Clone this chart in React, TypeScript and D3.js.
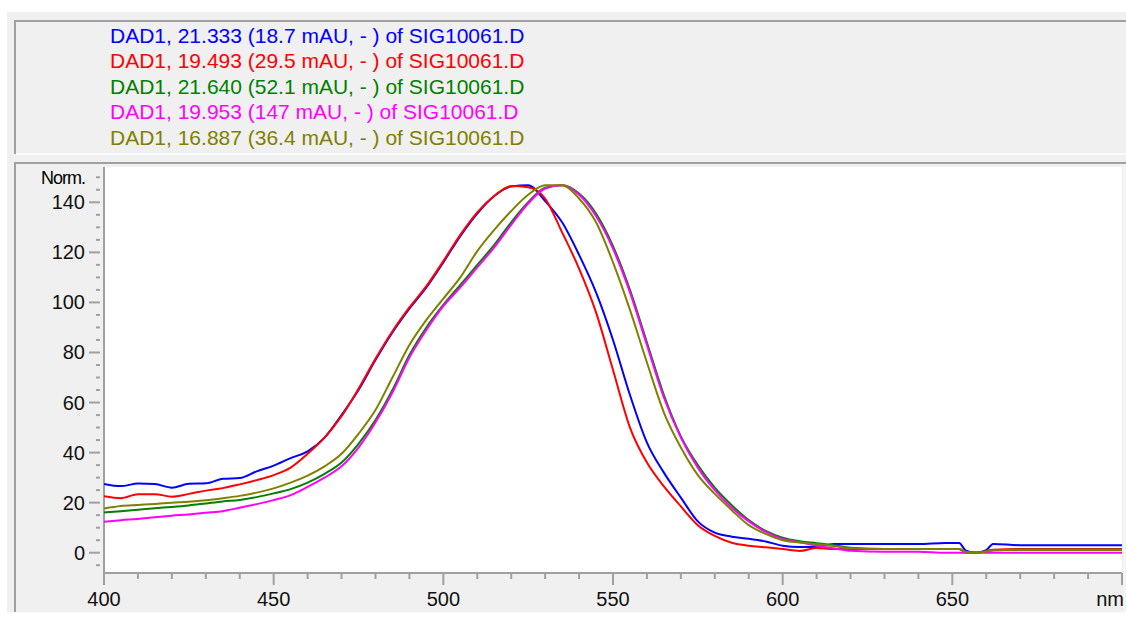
import React from "react";
import * as d3 from "d3";

const wavelengths = [400, 405, 410, 415, 420, 425, 430, 435, 440, 445, 450, 455, 460, 465, 470, 475, 480, 485, 490, 495, 500, 505, 510, 515, 520, 525, 530, 535, 540, 545, 550, 555, 560, 565, 570, 575, 580, 585, 590, 595, 600, 605, 610, 615, 620, 630, 640, 648, 652, 654, 657, 660, 662, 670, 680, 690, 700];

const blueSeries = [27.5, 26.6, 27.6, 27.4, 26.0, 27.5, 27.7, 29.5, 29.8, 32.5, 34.8, 37.8, 40.5, 46, 55, 65, 77, 88, 97.5, 106, 116, 126.5, 135.5, 142.5, 146.3, 146.8, 140.5, 132, 119, 104, 85, 63, 44, 32, 22, 12.5, 8, 6.4, 5.6, 4.5, 2.8, 2.3, 2.3, 3.5, 3.5, 3.5, 3.5, 3.9, 3.9, 0.8, 0, 1, 3.5, 3, 3, 3, 3];
const redSeries = [22.6, 21.8, 23.4, 23.4, 22.4, 23.5, 24.8, 25.8, 27.3, 29, 31, 34, 39.5, 46, 54.5, 65.5, 77.5, 88.5, 98, 106.5, 116.5, 127, 136, 142.5, 146.5, 146, 141.5, 128, 113.5, 96, 73, 50, 36, 26.5, 18.5, 11, 6.7, 4, 2.8, 2.2, 1.5, 0.7, 1.9, 1.5, 1.5, 1.5, 1.5, 1.5, 1.5, 0, 0, 0.7, 1.2, 1.5, 1.5, 1.5, 1.5];
const greenSeries = [16.1, 16.6, 17.2, 17.8, 18.3, 18.9, 19.7, 20.5, 21.1, 22.2, 23.7, 25.4, 28, 31.5, 36, 43.5, 53, 65, 79, 90, 99, 107, 115, 123, 132, 140, 145.8, 146.8, 143.5, 135.5, 122.5, 105, 84, 63, 46.5, 35, 26, 19, 13, 8.7, 6, 4.6, 3.8, 3, 2, 1.5, 1.5, 1.5, 1.5, 0.3, 0, 0.5, 1, 1.2, 1.2, 1.2, 1.2];
const magentaSeries = [12.4, 13, 13.5, 14.2, 14.8, 15.3, 16, 16.6, 18, 19.4, 21, 23, 26.3, 30, 34.5, 42, 52, 64, 78, 89, 98.5, 106, 114, 122, 131, 139.5, 145.5, 146.8, 143, 134.5, 121.5, 104, 83, 62, 46, 34, 25, 18, 12.5, 8.3, 5.5, 4.2, 2.8, 1.8, 0.8, 0.4, 0.4, 0, 0, 0, 0, 0, 0, 0, 0, 0, 0];
const oliveSeries = [17.7, 18.7, 19.1, 19.5, 20, 20.4, 21, 21.8, 22.7, 24, 25.7, 28, 30.8, 34.5, 39.5, 47.5, 57, 70, 83, 93, 101.5, 110, 120.5, 129, 136.5, 143, 146.8, 146.8, 141.5, 132, 116, 97, 76, 56, 42, 31, 23.5, 17, 11, 7.5, 5, 4.1, 3.4, 2.7, 1.8, 1.5, 1.5, 1.5, 1.5, 0.3, 0, 0.5, 1, 1.2, 1.2, 1.2, 1.2];

const seriesLabels = [
  "DAD1, 21.333 (18.7 mAU, - ) of SIG10061.D",
  "DAD1, 19.493 (29.5 mAU, - ) of SIG10061.D",
  "DAD1, 21.640 (52.1 mAU, - ) of SIG10061.D",
  "DAD1, 19.953 (147 mAU, - ) of SIG10061.D",
  "DAD1, 16.887 (36.4 mAU, - ) of SIG10061.D",
];
const seriesColors = ["#0000ff", "#ff0000", "#008000", "#ff00ff", "#808000"];
const seriesValues = [blueSeries, redSeries, greenSeries, magentaSeries, oliveSeries];

const yTickLabels = [0, 20, 40, 60, 80, 100, 120, 140];
const xTickLabels = [400, 450, 500, 550, 600, 650];
const yUnit = "Norm.";
const xUnit = "nm";

const FONT = "'Liberation Sans', Arial, sans-serif";

export default function App() {
  const W = 1126;
  const H = 619;
  const left = 104;
  const right = 1122;
  const top = 167;
  const bottom = 573;

  const x = d3.scaleLinear().domain([400, 700]).range([left, right]);
  const y = d3.scaleLinear().domain([0, 140]).range([552.7, 202.3]);

  const line = d3
    .line<number>()
    .x((_, i) => x(wavelengths[i]))
    .y((d) => y(d))
    .curve(d3.curveMonotoneX);

  const yMinor = d3.range(-5, 151, 5);
  const xMinor = d3.range(400, 701, 10);

  const axisColor = "#a0a0a0";

  return (
    <svg
      width={W}
      height={H}
      style={{ position: "absolute", left: 0, top: 0, background: "#ffffff" }}
    >
      <defs>
        <clipPath id="plotClip">
          <rect x={left} y={top} width={right - left} height={bottom - top} />
        </clipPath>
      </defs>
      {/* outer grey panel */}
      <rect x={7} y={12} width={W - 7} height={600} fill="#f0f0f0" />
      {/* legend box frame */}
      <line x1={15} y1={21} x2={W} y2={21} stroke="#a0a0a0" strokeWidth={2} />
      <line x1={15} y1={20} x2={15} y2={154} stroke="#a0a0a0" strokeWidth={2} />
      <line x1={16} y1={154} x2={W} y2={154} stroke="#fcfcfc" strokeWidth={1.5} />
      {/* plot panel frame */}
      <line x1={15} y1={163} x2={W} y2={163} stroke="#a0a0a0" strokeWidth={2} />
      <line x1={15} y1={162} x2={15} y2={612} stroke="#a0a0a0" strokeWidth={2} />
      <line x1={1124.5} y1={164} x2={1124.5} y2={612} stroke="#fafafa" strokeWidth={1} />
      <line x1={7} y1={612.5} x2={W} y2={612.5} stroke="#fbfbfb" strokeWidth={1} />

      {/* legend text */}
      {seriesLabels.map((s, i) => (
        <text
          key={s}
          x={110}
          y={42.5 + i * 25.6}
          fontFamily={FONT}
          fontSize={21}
          fill={seriesColors[i]}
        >
          {s}
        </text>
      ))}

      {/* plot area */}
      <rect x={left} y={top} width={right - left} height={bottom - top} fill="#ffffff" />

      {/* y axis */}
      <line x1={left} y1={top} x2={left} y2={585} stroke={axisColor} strokeWidth={2} />
      {yMinor.map((v) => {
        const major = v % 20 === 0 && v >= 0 && v <= 140;
        return (
          <line
            key={"yt" + v}
            x1={major ? 89 : 96}
            x2={100}
            y1={y(v)}
            y2={y(v)}
            stroke={axisColor}
            strokeWidth={2}
          />
        );
      })}
      {yTickLabels.map((v) => (
        <text
          key={"yl" + v}
          x={85}
          y={y(v) + 7}
          textAnchor="end"
          fontFamily={FONT}
          fontSize={20}
          fill="#111"
        >
          {v}
        </text>
      ))}
      <text x={85} y={y(150) + 6.5} textAnchor="end" fontFamily={FONT} fontSize={18} fill="#000" letterSpacing={-1}>
        {yUnit}
      </text>

      {/* x axis */}
      <line x1={left} y1={bottom} x2={right} y2={bottom} stroke={axisColor} strokeWidth={2} />
      {xMinor.map((v) => {
        const major = v % 50 === 0;
        return (
          <line
            key={"xt" + v}
            x1={x(v)}
            x2={x(v)}
            y1={bottom}
            y2={major ? 585 : 579}
            stroke={axisColor}
            strokeWidth={2}
          />
        );
      })}
      {xTickLabels.map((v) => (
        <text
          key={"xl" + v}
          x={x(v)}
          y={606}
          textAnchor="middle"
          fontFamily={FONT}
          fontSize={20}
          fill="#111"
        >
          {v}
        </text>
      ))}
      <text x={1124} y={606} textAnchor="end" fontFamily={FONT} fontSize={20} fill="#111">
        {xUnit}
      </text>

      {/* spectra */}
      <g clipPath="url(#plotClip)">
        {seriesValues.map((vals, i) => (
          <path
            key={"s" + i}
            d={line(vals) || ""}
            fill="none"
            stroke={seriesColors[i]}
            strokeWidth={2}
            strokeLinejoin="round"
          />
        ))}
      </g>
    </svg>
  );
}
